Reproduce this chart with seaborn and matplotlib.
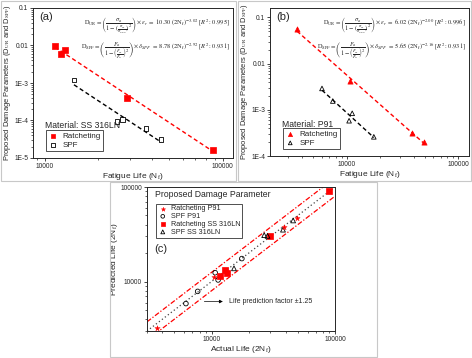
import numpy as np
import pandas as pd
import matplotlib
matplotlib.use("Agg")
import matplotlib.pyplot as plt
import seaborn as sns
from matplotlib.patches import Rectangle
from matplotlib.ticker import FuncFormatter, LogLocator, NullFormatter

# (a) SS 316LN
ss_rat_n = [11400, 12300, 13000, 29000, 88500]
ss_rat_d = [0.0098, 0.0059, 0.0076, 0.00040, 0.000016]
ss_spf_n = [14600, 25500, 27400, 37000, 45000]
ss_spf_d = [0.0012, 0.000095, 0.000105, 0.000062, 0.000031]

# (b) P91
p91_rat_n = [3580, 10600, 38700, 49000]
p91_rat_d = [0.055, 0.0043, 0.00032, 0.00020]
p91_spf_n = [6000, 7500, 10500, 11200, 17500]
p91_spf_d = [0.0029, 0.00155, 0.00058, 0.00084, 0.00026]

# (c) actual vs predicted life
c_rat_p91_act = [3590, 10500, 38600, 49300]
c_rat_p91_pred = [3210, 11100, 37400, 47500]
c_spf_p91_act = [6200, 7720, 10700, 11300, 17600]
c_spf_p91_pred = [5850, 7870, 12400, 10400, 17500]
c_rat_ss_act = [11730, 12790, 13420, 29850, 90200]
c_rat_ss_pred = [11370, 13200, 12200, 30100, 90300]
c_spf_ss_act = [15200, 26700, 28400, 37900, 45800]
c_spf_ss_pred = [13800, 30950, 30400, 35400, 44300]

eq_a = [r"$\mathrm{D_{UR}} = \left(\dfrac{\sigma_a}{1-\left(\frac{\sigma_m}{\sigma_{UTS}}\right)^2}\right)\times\varepsilon_r\ =\ 10.30\ (2\mathrm{N_f})^{-3.02}\ [R^2{:}\,0.995]$",
        r"$\mathrm{D_{SPF}} = \left(\dfrac{F_a}{1-\left(\frac{F_m}{F_u}\right)^2}\right)\times\delta_{SPF}\ =\ 8.78\ (2\mathrm{N_f})^{-2.92}\ [R^2{:}\,0.931]$"]
eq_b = [r"$\mathrm{D_{UR}} = \left(\dfrac{\sigma_a}{1-\left(\frac{\sigma_m}{\sigma_{UTS}}\right)^2}\right)\times\varepsilon_r\ =\ 6.02\ (2\mathrm{N_f})^{-2.00}\ [R^2{:}\,0.996]$",
        r"$\mathrm{D_{SPF}} = \left(\dfrac{F_a}{1-\left(\frac{F_m}{F_u}\right)^2}\right)\times\delta_{SPF}\ =\ 5.65\ (2\mathrm{N_f})^{-2.16}\ [R^2{:}\,0.931]$"]

sns.set_style("ticks")
plt.rcParams['font.family'] = ['Liberation Sans', 'DejaVu Sans']
plt.rcParams['mathtext.fontset'] = 'stix'

W, H = 472, 358
fig = plt.figure(figsize=(W / 100, H / 100), dpi=100)


def px_axes(l, t, r, b):
    return fig.add_axes([l / W, 1 - b / H, (r - l) / W, (b - t) / H])


def frame(l, t, r, b):
    fig.patches.append(Rectangle((l / W, 1 - b / H), (r - l) / W, (b - t) / H,
                                 transform=fig.transFigure, fill=False,
                                 edgecolor="#c8c8c8", lw=0.8))


def yfmt(v, pos):
    if v >= 0.01:
        return f"{v:g}"
    return f"1E{int(round(np.log10(v)))}"


def style_log(ax):
    ax.set_xscale("log")
    ax.set_yscale("log")
    ax.tick_params(which="major", direction="out", length=2.5, width=0.6, labelsize=4.8, pad=1)
    ax.tick_params(which="minor", direction="out", length=1.5, width=0.5)
    for s in ax.spines.values():
        s.set_linewidth(0.7)
    ax.xaxis.set_major_formatter(FuncFormatter(lambda v, p: f"{int(v)}"))
    ax.xaxis.set_minor_formatter(NullFormatter())
    ax.yaxis.set_minor_formatter(NullFormatter())


def fit_line(ax, n, d, color):
    k, c = np.polyfit(np.log10(n), np.log10(d), 1)
    xs = np.array([min(n), max(n)])
    line = pd.DataFrame({"x": xs, "y": 10 ** (c + k * np.log10(xs))})
    sns.lineplot(data=line, x="x", y="y", ax=ax, color=color, lw=1.0,
                 linestyle=(0, (3, 2)), legend=False)


def damage_panel(ax, rat_n, rat_d, spf_n, spf_d, mk, material, tag, eqs, ylim, xlim):
    style_log(ax)
    fit_line(ax, rat_n, rat_d, "red")
    fit_line(ax, spf_n, spf_d, "black")
    sns.scatterplot(x=rat_n, y=rat_d, ax=ax, marker=mk, s=14, color="red",
                    edgecolor="red", linewidth=0.5, label="Ratcheting", zorder=3)
    sns.scatterplot(x=spf_n, y=spf_d, ax=ax, marker=mk, s=11, facecolor="none",
                    edgecolor="black", linewidth=0.6, label="SPF", zorder=3)
    ax.set_xlim(*xlim)
    ax.set_ylim(*ylim)
    ax.yaxis.set_major_locator(LogLocator(base=10))
    ax.yaxis.set_major_formatter(FuncFormatter(yfmt))
    ax.set_xlabel("Fatigue Life (N$_\\mathrm{f}$)", fontsize=6, labelpad=0.5)
    ax.set_ylabel("Proposed Damage Parameters (D$_\\mathrm{UR}$ and D$_\\mathrm{SPF}$)",
                  fontsize=5.4, labelpad=0.5)
    ax.text(0.03, 0.97, tag, transform=ax.transAxes, fontsize=8, va="top")
    ax.text(0.985, 0.885, eqs[0], transform=ax.transAxes, fontsize=4.6, ha="right", va="center")
    ax.text(0.985, 0.715, eqs[1], transform=ax.transAxes, fontsize=4.6, ha="right", va="center")
    ax.text(0.06, 0.215, material, transform=ax.transAxes, fontsize=6.2, va="center")
    leg = ax.legend(loc="lower left", bbox_to_anchor=(0.045, 0.02), fontsize=5.8,
                    frameon=True, fancybox=False, edgecolor="black", markerscale=0.8,
                    handletextpad=0.5, borderpad=0.25, labelspacing=0.15, handlelength=1.3)
    leg.get_frame().set_linewidth(0.6)


# panel (a)
frame(1, 1, 236, 181)
ax_a = px_axes(33, 8, 233, 158)
damage_panel(ax_a, ss_rat_n, ss_rat_d, ss_spf_n, ss_spf_d, "s", "Material: SS 316LN", "(a)",
             eq_a, (1e-5, 0.1), (8600, 114000))

# panel (b)
frame(238, 1, 471, 181)
ax_b = px_axes(270, 8, 469, 156)
damage_panel(ax_b, p91_rat_n, p91_rat_d, p91_spf_n, p91_spf_d, "^", "Material: P91", "(b)",
             eq_b, (1e-4, 0.16), (2050, 125000))

# panel (c)
frame(110, 182, 377, 357)
ax_c = px_axes(147, 187, 335, 331)
style_log(ax_c)
lim = (3000, 100000)
diag = pd.DataFrame({"x": np.array(lim)})
sns.lineplot(x=diag["x"], y=diag["x"], ax=ax_c, color="#444444", lw=0.9,
             linestyle=(0, (1, 2)), legend=False)
sns.lineplot(x=diag["x"], y=diag["x"] * 1.25, ax=ax_c, color="red", lw=0.9,
             linestyle=(0, (4, 1.5, 1, 1.5)), legend=False)
sns.lineplot(x=diag["x"], y=diag["x"] / 1.25, ax=ax_c, color="red", lw=0.9,
             linestyle=(0, (4, 1.5, 1, 1.5)), legend=False)
sns.scatterplot(x=c_rat_p91_act, y=c_rat_p91_pred, ax=ax_c, marker="*", s=16, color="red",
                edgecolor="red", linewidth=0.3, label="Ratcheting P91", zorder=4)
sns.scatterplot(x=c_spf_p91_act, y=c_spf_p91_pred, ax=ax_c, marker="o", s=11, facecolor="none",
                edgecolor="black", linewidth=0.6, label="SPF P91", zorder=3)
sns.scatterplot(x=c_rat_ss_act, y=c_rat_ss_pred, ax=ax_c, marker="s", s=14, color="red",
                edgecolor="red", linewidth=0.5, label="Ratcheting SS 316LN", zorder=3)
sns.scatterplot(x=c_spf_ss_act, y=c_spf_ss_pred, ax=ax_c, marker="^", s=12, facecolor="none",
                edgecolor="black", linewidth=0.6, label="SPF SS 316LN", zorder=3)
ax_c.set_xlim(*lim)
ax_c.set_ylim(*lim)
ax_c.yaxis.set_major_formatter(FuncFormatter(lambda v, p: f"{int(v)}"))
ax_c.set_xlabel("Actual Life (2N$_\\mathrm{f}$)", fontsize=6, labelpad=0.5)
ax_c.set_ylabel("Predicted Life (2N$_\\mathrm{f}$)", fontsize=6, labelpad=0.5)
ax_c.text(0.04, 0.945, "Proposed Damage Parameter", transform=ax_c.transAxes, fontsize=6.2, va="center")
leg = ax_c.legend(loc="upper left", bbox_to_anchor=(0.03, 0.91), fontsize=5.2,
                  frameon=True, fancybox=False, edgecolor="black", markerscale=0.8,
                  handletextpad=0.5, borderpad=0.25, labelspacing=0.1, handlelength=1.3)
leg.get_frame().set_linewidth(0.6)
ax_c.text(0.04, 0.57, "(c)", transform=ax_c.transAxes, fontsize=8, va="center")
ax_c.annotate("", xy=(13000, 6150), xytext=(8300, 6150),
              arrowprops=dict(arrowstyle="-|>", color="black", lw=0.5, mutation_scale=5))
ax_c.text(13800, 6150, "Life prediction factor \u00b11.25", fontsize=5, va="center")

fig.savefig("out.png", dpi=100)
